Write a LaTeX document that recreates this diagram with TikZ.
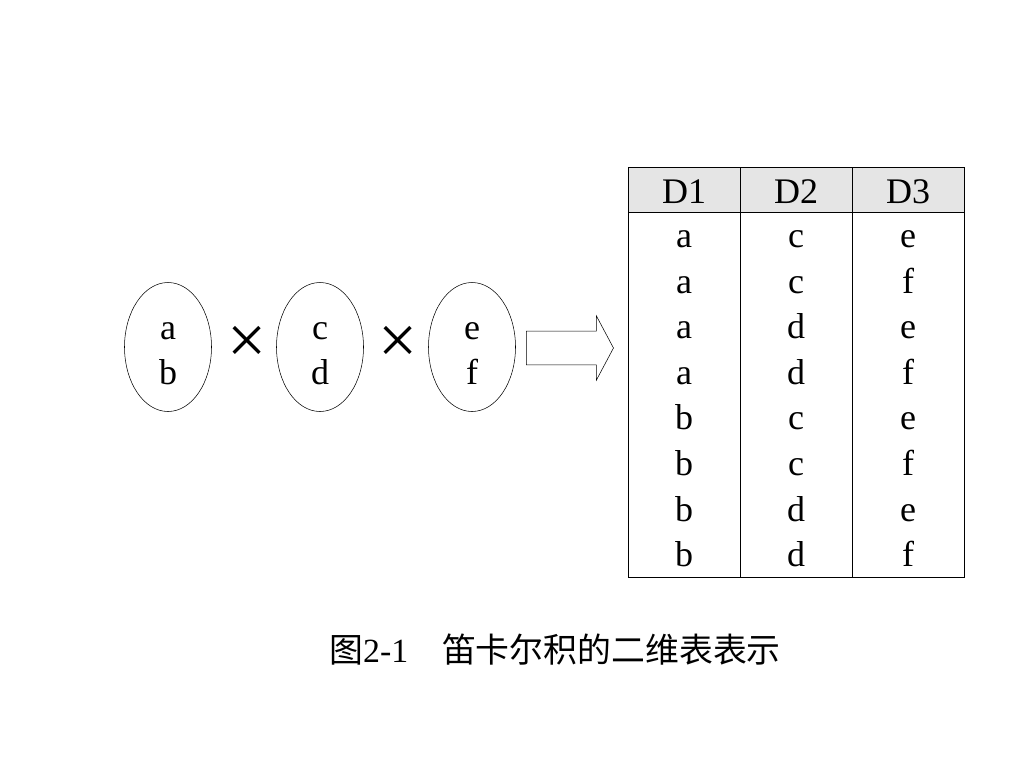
\documentclass[tikz,border=0pt]{standalone}
\usepackage{fontspec}
\setmainfont{Liberation Serif}
\newfontfamily\cjkfont{Noto Sans CJK SC}
\usetikzlibrary{shapes.geometric,shapes.arrows,positioning}

\begin{document}
\begin{tikzpicture}[x=0.75pt,y=-0.75pt,draw=black,thin]
	\tikzstyle{set}=[ellipse,draw,
	minimum width=65.25pt,
	minimum height=96.75pt,
	inner sep=0pt
	]
	\tikzstyle{cell}=[inner sep=0pt,text height=22pt,text depth=3pt,
	font=\fontsize{27}{32}\selectfont];
	\tikzstyle{op}=[inner sep=0pt,font=\fontsize{52}{52}\selectfont];
\useasboundingbox (0,0) rectangle (1024,768);

\node[set](s1) at (168,347){};
\node[cell] at (168,327){a};
\node[cell] at (168,372){b};
\node[op](x1) at (247,345){×};
\node[set](s2) at (320,347){};
\node[cell] at (320,327){c};
\node[cell] at (320,372){d};
\node[op](x2) at (398,345){×};
\node[set](s3) at (472,347){};
\node[cell] at (472,327){e};
\node[cell] at (472,372){f};

\node[single arrow,draw,inner xsep=0pt,inner ysep=12.4pt,
	minimum height=65.25pt,
	single arrow head extend=11.6pt,single arrow tip angle=124](to) at (565.5,348){};

% table
\fill[black!10] (628,167) rectangle (964,212);
\draw (628,167) rectangle (964,577);
\draw (628,212) -- (964,212);
\draw (740,167) -- (740,577);
\draw (852,167) -- (852,577);

\foreach \d [count=\i] in {D1,D2,D3}
	\node[cell](h\i) at (572+112*\i,191){\d};
\foreach \p/\q/\r [count=\j] in {a/c/e,a/c/f,a/d/e,a/d/f,b/c/e,b/c/f,b/d/e,b/d/f}{
	\node[cell](r\j-1) at (684,{212+45.6*(\j-0.5)}){\p};
	\node[cell](r\j-2) at (796,{212+45.6*(\j-0.5)}){\q};
	\node[cell](r\j-3) at (908,{212+45.6*(\j-0.5)}){\r};
}

\node[font=\fontsize{25.4}{30}\selectfont](cap) at (555,650){{\cjkfont 图}2-1\quad{\cjkfont 笛卡尔积的二维表表示}};

\end{tikzpicture}
\end{document}
